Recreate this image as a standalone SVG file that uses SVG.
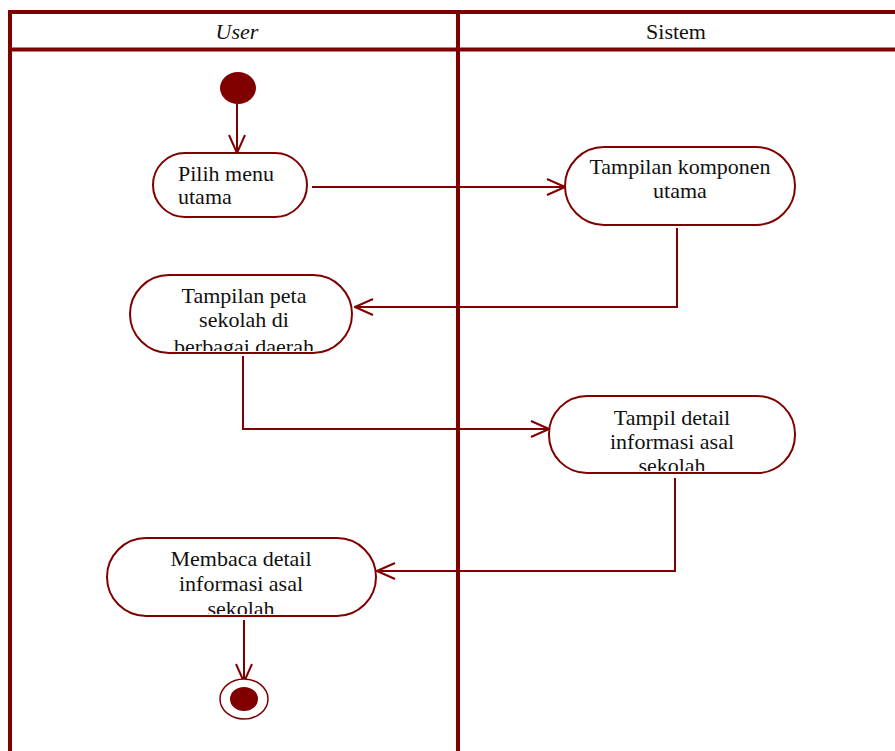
<svg xmlns="http://www.w3.org/2000/svg" width="895" height="751" viewBox="0 0 895 751">
<style>
.frame{stroke:#800000;stroke-width:4;fill:none}
.node{fill:#fff;stroke:#800000;stroke-width:2}
.conn{fill:none;stroke:#800000;stroke-width:2}
.t{font-family:"Liberation Serif",serif;font-size:22px;fill:#111}
.c{text-anchor:middle}
</style>
<defs>
<marker id="arr" viewBox="0 0 20 20" refX="19" refY="10" markerWidth="20" markerHeight="20" markerUnits="userSpaceOnUse" orient="auto">
<path d="M1,2 L19,10 L1,18" fill="none" stroke="#800000" stroke-width="2"/>
</marker>
<clipPath id="c3"><rect x="131" y="276" width="220" height="75" rx="37"/></clipPath>
<clipPath id="c4"><rect x="550" y="397" width="244" height="74" rx="37"/></clipPath>
<clipPath id="c5"><rect x="108" y="539" width="267" height="75" rx="37"/></clipPath>
</defs>
<rect width="895" height="751" fill="#fff"/>
<g id="frame">
<line class="frame" x1="10" y1="12" x2="895" y2="12"/>
<line class="frame" x1="10" y1="10" x2="10" y2="751"/>
<line class="frame" x1="458" y1="10" x2="458" y2="751" stroke-width="5"/>
<line class="frame" x1="10" y1="49.5" x2="895" y2="49.5" stroke-width="3"/>
<text class="t c" x="237" y="39" font-style="italic">User</text>
<text class="t c" x="676" y="39">Sistem</text>
</g>
<g id="connectors">
<line class="conn" x1="237" y1="104" x2="237" y2="153" marker-end="url(#arr)"/>
<line class="conn" x1="312" y1="187" x2="565" y2="187" marker-end="url(#arr)"/>
<polyline class="conn" points="677,228 677,307 355,307" marker-end="url(#arr)"/>
<polyline class="conn" points="243,356 243,429 549,429" marker-end="url(#arr)"/>
<polyline class="conn" points="675,478 675,571 377,571" marker-end="url(#arr)"/>
<line class="conn" x1="244" y1="620" x2="244" y2="682" marker-end="url(#arr)"/>
</g>
<g id="start"><ellipse cx="238" cy="88" rx="18" ry="16" fill="#800000"/></g>
<g id="n1">
<rect class="node" x="153" y="153" width="154" height="64" rx="32"/>
<text class="t" x="178" y="181">Pilih menu</text>
<text class="t" x="178" y="204">utama</text>
</g>
<g id="n2">
<rect class="node" x="565" y="147" width="230" height="78" rx="39"/>
<text class="t c" x="680" y="174">Tampilan komponen</text>
<text class="t c" x="680" y="198">utama</text>
</g>
<g id="n3">
<rect class="node" x="130" y="275" width="222" height="78" rx="39"/>
<g clip-path="url(#c3)">
<text class="t c" x="244" y="303">Tampilan peta</text>
<text class="t c" x="244" y="327">sekolah di</text>
<text class="t c" x="244" y="354">berbagai daerah</text>
</g>
</g>
<g id="n4">
<rect class="node" x="549" y="396" width="246" height="77" rx="38"/>
<g clip-path="url(#c4)">
<text class="t c" x="672" y="425">Tampil detail</text>
<text class="t c" x="672" y="449">informasi asal</text>
<text class="t c" x="672" y="473">sekolah</text>
</g>
</g>
<g id="n5">
<rect class="node" x="107" y="538" width="269" height="78" rx="39"/>
<g clip-path="url(#c5)">
<text class="t c" x="241" y="566">Membaca detail</text>
<text class="t c" x="241" y="591">informasi asal</text>
<text class="t c" x="241" y="616">sekolah</text>
</g>
</g>
<g id="end">
<ellipse cx="244" cy="699" rx="24" ry="20" fill="#fff" stroke="#800000" stroke-width="1.5"/>
<ellipse cx="244" cy="699" rx="14" ry="12" fill="#800000"/>
</g>
</svg>
